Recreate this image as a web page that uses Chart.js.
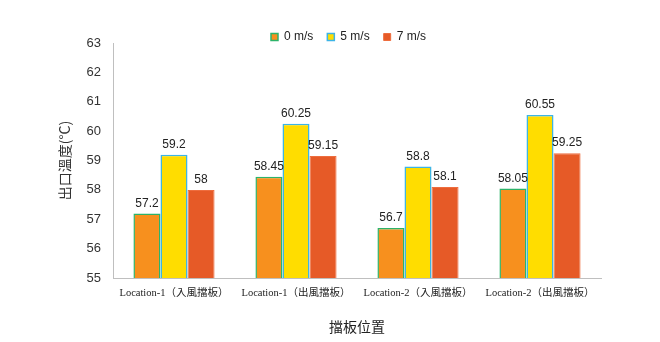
<!DOCTYPE html>
<html lang="zh-Hant">
<head>
    <meta charset="UTF-8">
    <title>出口溫度</title>
    <script src="https://cdn.jsdelivr.net/npm/chart.js"></script>
    <style>
        html, body { margin: 0; padding: 0; background: #fff; }
        #wrap { width: 660px; height: 342px; }
    </style>
</head>
<body>
    <div id="wrap"><canvas id="tempChart" width="660" height="342"></canvas></div>

    <script>
        const categories = ['Location-1（入風擋板）', 'Location-1（出風擋板）', 'Location-2（入風擋板）', 'Location-2（出風擋板）'];
        const speedLabels = ['0 m/s', '5 m/s', '7 m/s'];
        const temp0 = [57.2, 58.45, 56.7, 58.05];
        const temp5 = [59.2, 60.25, 58.8, 60.55];
        const temp7 = [58, 59.15, 58.1, 59.25];
        const yMin = 55;
        const yMax = 63;

        const sansFont = "Arial, 'Liberation Sans', 'Noto Sans CJK TC', sans-serif";
        const serifFont = "'Liberation Serif', 'Times New Roman', 'Noto Sans CJK TC', serif";
        const cjkFont = "'Noto Sans CJK TC', 'Liberation Serif', serif";

        // value printed above every bar
        const valueLabels = {
            id: 'valueLabels',
            afterDatasetsDraw(chart) {
                const ctx = chart.ctx;
                ctx.save();
                ctx.font = '12px ' + sansFont;
                ctx.fillStyle = '#222';
                ctx.textAlign = 'center';
                ctx.textBaseline = 'middle';
                chart.data.datasets.forEach((ds, i) => {
                    chart.getDatasetMeta(i).data.forEach((bar, j) => {
                        ctx.fillText(String(ds.data[j]), bar.x, bar.y - 10);
                    });
                });
                ctx.restore();
            }
        };

        // legend sits a little lower and to the right, just above the plot
        const legendNudge = {
            id: 'legendNudge',
            afterLayout(chart) {
                const lg = chart.legend;
                if (lg) {
                    lg.top += 10;
                    lg.bottom += 10;
                    lg.left += 22;
                    lg.right += 22;
                }
            }
        };

        new Chart(document.getElementById('tempChart'), {
            type: 'bar',
            data: {
                labels: categories,
                datasets: [{
                    label: speedLabels[0],
                    data: temp0,
                    backgroundColor: '#F7901E',
                    borderColor: '#2DB36A',
                    borderWidth: 1.5
                }, {
                    label: speedLabels[1],
                    data: temp5,
                    backgroundColor: '#FFDD00',
                    borderColor: '#3CB4E6',
                    borderWidth: 1.5
                }, {
                    label: speedLabels[2],
                    data: temp7,
                    backgroundColor: '#E65A27',
                    borderColor: '#EE6D3E',
                    borderWidth: 1
                }]
            },
            options: {
                responsive: false,
                animation: false,
                devicePixelRatio: 1,
                layout: { padding: { left: 52, right: 59, top: 7, bottom: 3 } },
                datasets: {
                    bar: { barPercentage: 1, categoryPercentage: 0.665 }
                },
                plugins: {
                    tooltip: { enabled: false },
                    legend: {
                        position: 'top',
                        labels: {
                            boxWidth: 7,
                            boxHeight: 7,
                            padding: 14,
                            color: '#222',
                            font: { family: sansFont, size: 12 }
                        }
                    }
                },
                scales: {
                    x: {
                        grid: { drawOnChartArea: false, drawTicks: false },
                        border: { display: true, color: '#BFBFBF', width: 1 },
                        ticks: {
                            color: '#222',
                            padding: 9,
                            maxRotation: 0,
                            autoSkip: false,
                            font: { family: serifFont, size: 10.5 }
                        },
                        title: {
                            display: true,
                            text: '擋板位置',
                            color: '#222',
                            font: { family: cjkFont, size: 14 }
                        },
                        afterFit(scale) { scale.height = 61; }
                    },
                    y: {
                        min: yMin,
                        max: yMax,
                        grid: { drawOnChartArea: false, drawTicks: false },
                        border: { display: true, color: '#BFBFBF', width: 1 },
                        ticks: {
                            stepSize: 1,
                            color: '#333',
                            padding: 12,
                            font: { family: sansFont, size: 13 }
                        },
                        title: {
                            display: true,
                            text: '出口溫度(°C)',
                            color: '#333',
                            font: { family: cjkFont, size: 14 }
                        },
                        afterFit(scale) { scale.width = 61; }
                    }
                }
            },
            plugins: [valueLabels, legendNudge]
        });
    </script>
</body>
</html>
